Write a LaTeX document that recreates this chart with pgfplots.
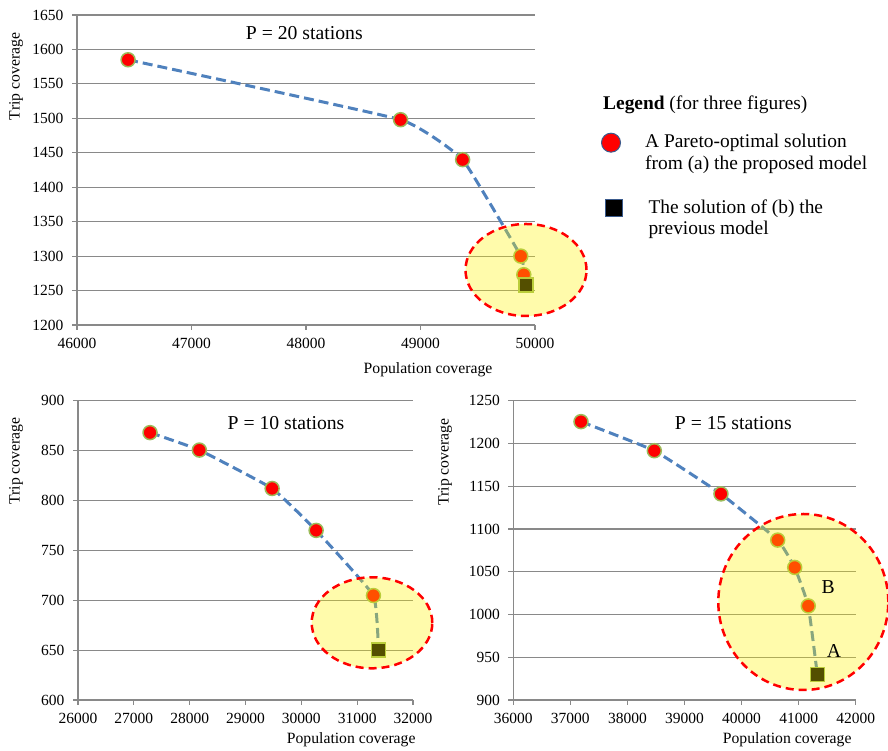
\documentclass[border=0pt]{standalone}
\usepackage{fontspec}
\setmainfont{Liberation Serif}
\usepackage{pgfplots}
\pgfplotsset{compat=1.18}
\definecolor{gridgray}{HTML}{898989}
\definecolor{lineblue}{HTML}{4F81BD}
\definecolor{mkgreen}{HTML}{9BBB59}
\definecolor{lgborder}{HTML}{3A5A8C}
\newcommand\tickf{\fontsize{15.5}{18}\selectfont}
\newcommand\labf{\fontsize{15.7}{18}\selectfont}
\newcommand\titf{\fontsize{19.7}{23}\selectfont}
\newcommand\legf{\fontsize{19.4}{22}\selectfont}
\pgfplotsset{
 panel/.style={
  scale only axis,
  axis x line*=bottom, axis y line*=left,
  axis line style={gridgray, line width=1.1pt},
  tick style={gridgray, line width=1.1pt},
  tick align=outside,
  major tick length=5pt,
  ymajorgrids, major grid style={gridgray, line width=1.1pt},
  scaled ticks=false,
  /pgf/number format/assume math mode=true,
  /pgf/number format/1000 sep={},
  ticklabel style={font=\tickf, text=black},
  xticklabel style={yshift=-4.5pt},
  yticklabel style={xshift=-5pt},
  clip=false,
 },
 pline/.style={lineblue, line width=3pt, dash pattern=on 10pt off 5pt, smooth, tension=0.2, no markers},
 pcirc/.style={only marks, mark=*, mark size=7pt, mark options={fill=red, draw=mkgreen, line width=1.5pt, solid}},
 psq/.style={only marks, mark=square*, mark size=7pt, mark options={fill=black, draw=mkgreen, line width=1.5pt, solid}},
}
\tikzset{ell/.style={draw=red, line width=2.5pt, dash pattern=on 8pt off 5pt, fill=yellow, fill opacity=0.33, draw opacity=1}}
\begin{document}
\begin{tikzpicture}[x=1pt,y=1pt]
\useasboundingbox (0,0) rectangle (888,751);
% ---- P = 20
\begin{axis}[panel, at={(77pt,426pt)}, anchor=south west, width=458pt, height=310pt,
  xmin=46000, xmax=50000, ymin=1200, ymax=1650,
  xtick={46000,47000,48000,49000,50000}, ytick={1200,1250,...,1650}]
\addplot[pline] coordinates {(46446,1585) (48826,1498) (49368,1440) (49876,1300) (49902,1273) (49920,1258)};
\addplot[pcirc] coordinates {(46446,1585) (48826,1498) (49368,1440) (49876,1300) (49902,1273)};
\addplot[psq] coordinates {(49920,1258)};
\end{axis}
% ---- P = 10
\begin{axis}[panel, at={(78pt,51pt)}, anchor=south west, width=335pt, height=299.3pt,
  xmin=26000, xmax=32000, ymin=600, ymax=900,
  xtick={26000,27000,...,32000}, ytick={600,650,...,900}]
\addplot[pline] coordinates {(27290,868) (28174,850.5) (29477,812) (30265,770) (31292,704.7) (31382,650)};
\addplot[pcirc] coordinates {(27290,868) (28174,850.5) (29477,812) (30265,770) (31292,704.7)};
\addplot[psq] coordinates {(31382,650)};
\end{axis}
% ---- P = 15
\begin{axis}[panel, at={(513.3pt,51pt)}, anchor=south west, width=342.4pt, height=299.3pt,
  xmin=36000, xmax=42000, ymin=900, ymax=1250,
  xtick={36000,37000,...,42000}, ytick={900,950,...,1250}]
\addplot[pline] coordinates {(37186,1225.5) (38471,1191.5) (39639,1141) (40633,1087) (40931,1055) (41169,1010) (41327,930)};
\addplot[pcirc] coordinates {(37186,1225.5) (38471,1191.5) (39639,1141) (40633,1087) (40931,1055) (41169,1010)};
\addplot[psq] coordinates {(41327,930)};
\end{axis}
% ---- legend markers
\begin{axis}[at={(600pt,521pt)}, anchor=south west, scale only axis, width=100pt, height=100pt,
  xmin=0, xmax=100, ymin=0, ymax=100, hide axis, clip=false]
\addplot[only marks, mark=*, mark size=9.5pt, mark options={fill=red, draw=lgborder, line width=1pt}] coordinates {(11,87.3)};
\addplot[only marks, mark=square*, mark size=8.5pt, mark options={fill=black, draw=lgborder, line width=1pt}] coordinates {(14.3,21.7)};
\end{axis}
% ---- highlight ellipses
\draw[ell] (526,481) ellipse [x radius=60.5, y radius=46];
\draw[ell] (372,128.2) ellipse [x radius=60.3, y radius=45.5];
\draw[ell] (803.3,149) ellipse [x radius=85, y radius=88];
% ---- titles and labels
\node[font=\titf] at (304.3,718.3) {P = 20 stations};
\node[font=\titf] at (286,327.7) {P = 10 stations};
\node[font=\titf] at (733.3,328.3) {P = 15 stations};
\node[font=\titf] at (828.3,164.3) {B};
\node[font=\titf] at (834,100.3) {A};
\node[font=\labf, rotate=90] at (16,674.5) {Trip coverage};
\node[font=\labf, rotate=90] at (16,290) {Trip coverage};
\node[font=\labf, rotate=90] at (445,289) {Trip coverage};
\node[font=\labf] at (428,381) {Population coverage};
\node[font=\labf, anchor=east, inner sep=0pt] at (415.7,11) {Population coverage};
\node[font=\labf, anchor=east, inner sep=0pt] at (851.7,11) {Population coverage};
% ---- legend text
\node[font=\legf, anchor=west, inner sep=0pt] at (603,646) {\textbf{Legend} (for three figures)};
\node[font=\legf, anchor=west, inner sep=0pt] at (645,608.3) {A Pareto-optimal solution};
\node[font=\legf, anchor=west, inner sep=0pt] at (645,586) {from (a) the proposed model};
\node[font=\legf, anchor=west, inner sep=0pt] at (648.3,542.7) {The solution of (b) the};
\node[font=\legf, anchor=west, inner sep=0pt] at (648.3,521) {previous model};
\end{tikzpicture}
\end{document}
